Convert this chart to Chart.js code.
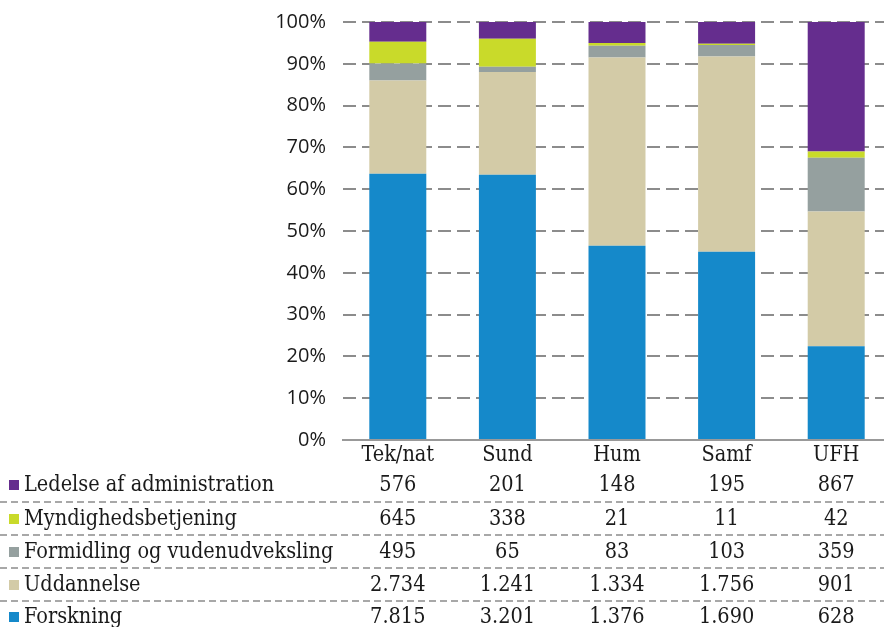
<!DOCTYPE html>
<html>
<head>
<meta charset="utf-8">
<script src="https://cdn.jsdelivr.net/npm/chart.js@4/dist/chart.umd.min.js"></script>
<style>
  html, body { margin: 0; padding: 0; background: #fff; overflow: hidden; }
  #wrap { width: 891px; height: 634px; margin-top: -7px; }
</style>
</head>
<body>
<div id="wrap"><canvas id="fordeling" width="891" height="634"></canvas></div>
<script>
// categories (faculties)
var categories = ['Tek/nat', 'Sund', 'Hum', 'Samf', 'UFH'];

// series values (bottom of stack first)
var forskning = [7815, 3201, 1376, 1690, 628];
var uddannelse = [2734, 1241, 1334, 1756, 901];
var formidling = [495, 65, 83, 103, 359];
var myndighed = [645, 338, 21, 11, 42];
var ledelse = [576, 201, 148, 195, 867];

var seriesNames = ['Forskning', 'Uddannelse', 'Formidling og vudenudveksling', 'Myndighedsbetjening', 'Ledelse af administration'];
var seriesValues = [forskning, uddannelse, formidling, myndighed, ledelse];
var seriesColors = ['#1589CA', '#D3CBA7', '#95A09F', '#C9DA2A', '#652D8E'];

// y tick labels
var yTicks = [0, 10, 20, 30, 40, 50, 60, 70, 80, 90, 100];

//totals per faculty, used for the 100% stacking
var totals = categories.map(function(c, i) {
  var sum = 0;
  seriesValues.forEach(function(s) { sum += s[i]; });
  return sum;
});

//danish thousands separator
function fmt(n) {
  return String(n).replace(/\B(?=(\d{3})+(?!\d))/g, '.');
}

var serif = '"DejaVu Serif Condensed", "Liberation Serif", serif';

//draws the data table under the bars (canvas is shifted 7px up)
var tablePlugin = {
  id: 'dataTable',
  afterDraw: function(chart) {
    var ctx = chart.ctx;
    var x = chart.scales.x;
    var rowY = [492, 526, 559, 592, 624];
    var sepY = [509, 542, 575, 608];
    ctx.save();
    // separators
    ctx.strokeStyle = '#8c8c8c';
    ctx.lineWidth = 1.5;
    ctx.setLineDash([7, 4]);
    sepY.forEach(function(y) {
      ctx.beginPath();
      ctx.moveTo(0, y);
      ctx.lineTo(chart.width, y);
      ctx.stroke();
    });
    ctx.setLineDash([]);
    ctx.font = '21.5px ' + serif;
    ctx.textBaseline = 'middle';
    for (var r = 0; r < 5; r++) {
      var s = 4 - r; // top row = top of stack
      ctx.fillStyle = seriesColors[s];
      ctx.fillRect(9, rowY[r] - 5, 10, 10);
      ctx.fillStyle = '#1a1a1a';
      ctx.textAlign = 'left';
      ctx.fillText(seriesNames[s], 24, rowY[r]);
      ctx.textAlign = 'center';
      for (var i = 0; i < categories.length; i++) {
        ctx.fillText(fmt(seriesValues[s][i]), x.getPixelForValue(i), rowY[r]);
      }
    }
    ctx.restore();
  }
};

var datasets = seriesNames.map(function(name, k) {
  return {
    label: name,
    data: seriesValues[k].map(function(v, i) { return v / totals[i] * 100; }),
    backgroundColor: seriesColors[k],
    borderWidth: 0,
    barPercentage: 0.52,
    categoryPercentage: 1
  };
});

var ctx1 = document.getElementById('fordeling');
var chart = new Chart(ctx1, {
  type: 'bar',
  data: { labels: categories, datasets: datasets },
  plugins: [tablePlugin],
  options: {
    responsive: false,
    animation: false,
    layout: { padding: { top: 5, right: 0, left: 0, bottom: 0 } },
    plugins: {
      legend: { display: false },
      tooltip: { enabled: false }
    },
    scales: {
      x: {
        stacked: true,
        grid: { display: false, drawTicks: false },
        border: { display: true, color: '#999', width: 2 },
        ticks: { color: '#1a1a1a', font: { family: serif, size: 21.5 }, padding: 3 },
        afterFit: function(scale) { scale.height = 187; }
      },
      y: {
        stacked: true,
        min: 0,
        max: 100,
        afterBuildTicks: function(scale) {
          scale.ticks = yTicks.map(function(v) { return { value: v }; });
        },
        grid: { color: '#8c8c8c', lineWidth: 2, drawTicks: false },
        border: { display: false, dash: [13, 6] },
        ticks: {
          color: '#1a1a1a',
          font: { family: '"Open Sans", sans-serif', size: 20 },
          padding: 17,
          callback: function(v) { return v + '%'; }
        },
        afterFit: function(scale) { scale.width = 343; }
      }
    }
  }
});
</script>
</body>
</html>
